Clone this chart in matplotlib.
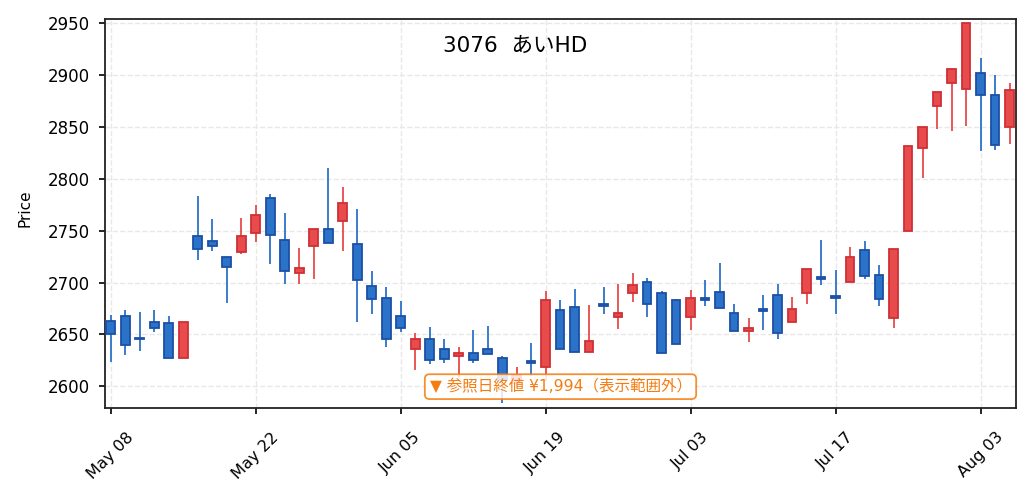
import numpy as np
import matplotlib
matplotlib.use('Agg')
import matplotlib.pyplot as plt
from matplotlib.patches import Rectangle

plt.rcParams['font.family'] = ['DejaVu Sans', 'Noto Sans CJK JP']

# 日足データ (読み取り値)
opens = [2662.5, 2668, 2647, 2662, 2661, 2627.5, 2744.5, 2740, 2725, 2729,
         2748, 2781.5, 2741.5, 2709, 2735.5, 2752, 2759.5, 2737, 2697, 2685,
         2668, 2635.5, 2646, 2635.5, 2629, 2632.5, 2636, 2627.5, 2603, 2624.5,
         2619, 2674, 2676, 2633, 2679, 2666.5, 2689.7, 2701, 2689.7, 2683,
         2667, 2685.5, 2691.3, 2670.3, 2653.2, 2674.8, 2688.4, 2662, 2690, 2705.2,
         2687.1, 2700.6, 2731.3, 2706.8, 2665.8, 2750, 2829.7, 2870, 2892.6, 2886.5,
         2902.3, 2881, 2850.3]
highs = [2669, 2674, 2672, 2674, 2668, 2662, 2783, 2761, 2725, 2762,
         2775, 2785, 2767, 2733.5, 2752, 2810, 2792, 2771, 2711, 2696,
         2682.5, 2651, 2657, 2645.5, 2637.5, 2654, 2658, 2629, 2619, 2642,
         2692, 2683, 2693.5, 2678.5, 2696, 2699, 2709.4, 2704, 2692, 2684.5,
         2693, 2702.5, 2718.7, 2679, 2665.5, 2688, 2698.4, 2686, 2712.6, 2741,
         2712, 2734.5, 2740.3, 2717, 2732, 2831.6, 2850, 2884, 2906, 2950.6,
         2917, 2899.7, 2892.3]
lows = [2623, 2630, 2634, 2652, 2627.5, 2627.5, 2722, 2730, 2680, 2727.5,
        2739, 2717.5, 2699, 2699, 2703, 2738, 2730, 2661.5, 2670, 2637.5,
        2652, 2616, 2621.5, 2622.5, 2608, 2622.5, 2631, 2583.5, 2598, 2610,
        2605, 2635.5, 2633, 2633, 2669.5, 2655.5, 2681.6, 2667, 2632, 2640.5,
        2654, 2677, 2675.8, 2653.2, 2643, 2654, 2645.2, 2662, 2679.7, 2697.7,
        2670, 2700.6, 2703, 2677.7, 2656.5, 2750, 2800.6, 2848, 2846, 2851,
        2826.8, 2827.7, 2833.5]
closes = [2650, 2640, 2646, 2656, 2627.5, 2662, 2732, 2735, 2715, 2744.5,
          2765, 2746, 2711.5, 2714.5, 2752, 2738.5, 2777, 2702, 2684.5, 2646,
          2656.5, 2646, 2625, 2626, 2632.5, 2625, 2631.3, 2606, 2611, 2622.5,
          2683.5, 2635.5, 2633, 2644, 2677.5, 2670.3, 2697.4, 2679.5, 2632, 2640.5,
          2685.5, 2683.3, 2675.8, 2653.2, 2656.5, 2672.6, 2651, 2674.8, 2712.6, 2703.2,
          2685.5, 2724.2, 2706.5, 2684.2, 2732, 2831.6, 2850, 2884, 2906, 2950.6,
          2880.6, 2832.3, 2885.8]

tick_pos = [0, 10, 20, 30, 40, 50, 60]
tick_labels = ['May 08', 'May 22', 'Jun 05', 'Jun 19', 'Jul 03', 'Jul 17', 'Aug 03']

title = '3076  あいHD'
note = '▼ 参照日終値 ¥1,994（表示範囲外）'

up_face, up_edge = '#e84b4b', '#cf3035'
dn_face, dn_edge = '#2b72c9', '#1b50a6'

fig = plt.figure(figsize=(10.31, 4.97), dpi=100)
ax = fig.add_axes([0.1018, 0.179, 0.8837, 0.7825])

w = 0.6
for i in range(len(opens)):
    o, h, l, c = opens[i], highs[i], lows[i], closes[i]
    up = c >= o
    face = up_face if up else dn_face
    edge = up_edge if up else dn_edge
    ax.vlines(i, l, h, color=face, lw=1.3, zorder=2)
    lo = min(o, c)
    hgt = max(abs(c - o), 0.8)
    ax.add_patch(Rectangle((i - w / 2, lo), w, hgt, facecolor=face,
                           edgecolor=edge, lw=1.3, zorder=3))

ax.set_xlim(-0.4, 62.45)
ax.set_ylim(2579, 2954)
ax.set_yticks(np.arange(2600, 2951, 50))
ax.set_xticks(tick_pos)
ax.set_xticklabels(tick_labels, rotation=45)
ax.tick_params(length=4.5, width=1.2, labelsize=11.5)
ax.tick_params(axis='y', pad=6, labelsize=12)
ax.tick_params(axis='x', pad=11)
ax.grid(True, ls='--', color='#e8e8e8', lw=1)
ax.set_axisbelow(True)
for s in ax.spines.values():
    s.set_linewidth(1.3)
    s.set_color('#222222')
ax.set_ylabel('Price', fontsize=11)
ax.yaxis.set_label_coords(-0.08, 0.515)

fig.text(0.5, 0.907, title, ha='center', va='center', fontsize=15.5)

ax.text(0.5, 0.055, note, transform=ax.transAxes, ha='center', va='center',
        fontsize=11.2, color='#f57c0e', zorder=5,
        bbox=dict(boxstyle='round,pad=0.3', facecolor='white', alpha=0.85,
                  edgecolor='#f57c0e', lw=1.3))

fig.savefig('out.png', dpi=100)
